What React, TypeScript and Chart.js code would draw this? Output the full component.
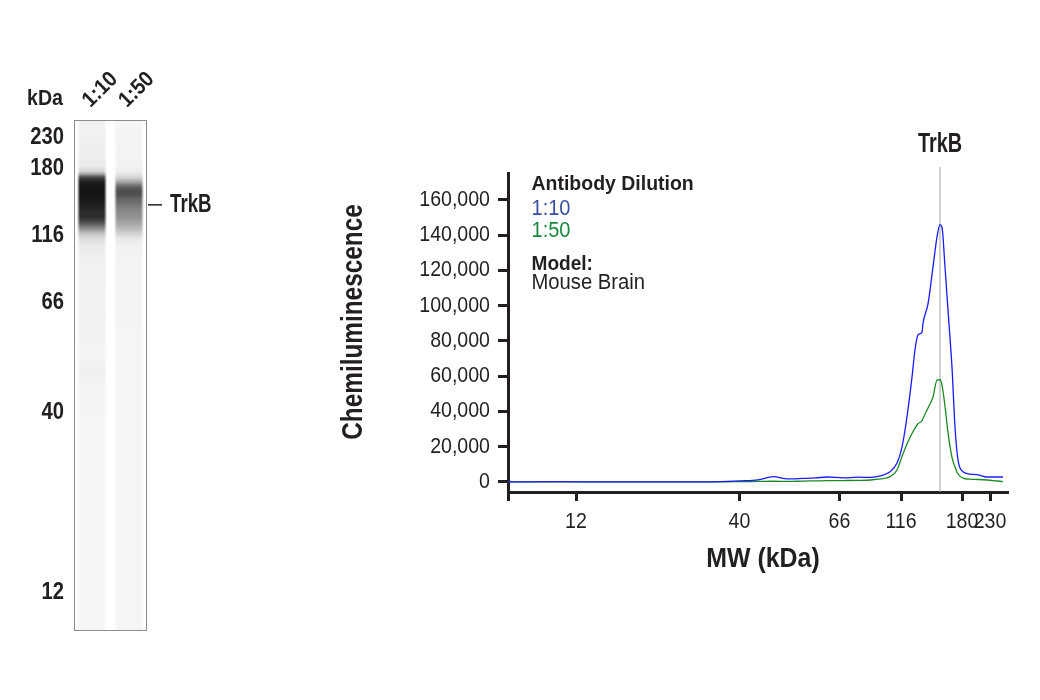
import React, { useEffect, useRef } from "react";
import { Chart, registerables } from "chart.js";

Chart.register(...registerables);

const FONT = "'Liberation Sans', Arial, Helvetica, sans-serif";
const INK = "#231f20";

// Molecular-weight calibration: tick labels and their relative migration positions (0-100)
const mwLabels = ["12", "40", "66", "116", "180", "230"];
const mwPositions = [13.6, 46.3, 66.3, 78.6, 90.8, 96.4];

// Chemiluminescence axis ticks
const yTickValues = [0, 20000, 40000, 60000, 80000, 100000, 120000, 140000, 160000];

// Relative migration positions at which the signal was read
const migration = [
  0, 10, 20, 30, 38.5, 44, 46.5, 50, 53.1, 55.9, 59, 61.5, 63.9, 67.1, 70, 72.5, 74.5, 76.4,
  77.8, 78.8, 79.8, 80.8, 81.4, 82.0, 82.8, 83.0, 84.0, 85.0, 85.8, 86.4, 86.8, 87.4, 88.0,
  88.8, 89.4, 90.0, 91.0, 92.4, 94.0, 95.8, 97.0, 99.0,
];

// Antibody dilution 1:10 (blue)
const dilution10 = [
  0, 200, 0, 100, 0, 300, 600, 1200, 3000, 1700, 2000, 2300, 2800, 2300, 2700, 2600, 3400, 5800,
  10700, 19800, 37000, 59500, 75000, 83500, 85000, 90000, 101000, 122000, 139000, 146000, 144500,
  122000, 97500, 65000, 31000, 12500, 5800, 4500, 4000, 2800, 2800, 2800,
];

// Antibody dilution 1:50 (green)
const dilution50 = [
  0, 0, 0, 0, 0, 100, 200, 300, 400, 300, 500, 600, 700, 800, 900, 1100, 1700, 3000,
  6800, 14500, 21500, 27500, 30500, 33000, 34800, 36000, 42000, 48200, 57800, 58000, 55000,
  43000, 28000, 14000, 8500, 4500, 2200, 1600, 1400, 1100, 800, 200,
];

const laneLabels = ["1:10", "1:50"];
const laneColors = ["#3a4ca3", "#17873d"];
const targetName = "TrkB";
const targetPosition = 86.4;
const gelTargetPosition = 83.9;
const modelName = "Mouse Brain";

const BLUE = "#1a1aff";
const GREEN = "#1c8a24";
const GEL_K = 48000;

type TxtOpts = {
  size: number;
  bold?: boolean;
  sx?: number;
  align?: CanvasTextAlign;
  baseline?: CanvasTextBaseline;
  color?: string;
  rot?: number;
};

function txt(ctx: CanvasRenderingContext2D, s: string, x: number, y: number, o: TxtOpts) {
  ctx.save();
  ctx.translate(x, y);
  if (o.rot) ctx.rotate(o.rot);
  ctx.scale(o.sx ?? 1, 1);
  ctx.font = `${o.bold ? "bold " : ""}${o.size}px ${FONT}`;
  ctx.textAlign = o.align ?? "left";
  ctx.textBaseline = o.baseline ?? "alphabetic";
  ctx.fillStyle = o.color ?? INK;
  ctx.fillText(s, 0, 0);
  ctx.restore();
}

function interp(p: number, xs: number[], ys: number[]) {
  if (p <= xs[0]) return ys[0];
  if (p >= xs[xs.length - 1]) return ys[ys.length - 1];
  for (let i = 1; i < xs.length; i++) {
    if (p <= xs[i]) {
      const t = (p - xs[i - 1]) / (xs[i] - xs[i - 1]);
      return ys[i - 1] + t * (ys[i] - ys[i - 1]);
    }
  }
  return 0;
}

const gelPlugin = {
  id: "gel",
  beforeDatasetsDraw(chart: any) {
    const { ctx, chartArea: ca, scales } = chart;
    const x = scales.x;
    const y = scales.y;
    ctx.save();
    ctx.fillStyle = "#ffffff";
    ctx.fillRect(ca.left, ca.top, ca.right - ca.left, ca.bottom - ca.top);
    const series = [dilution10, dilution50];
    const laneW = 30;
    series.forEach((vals, li) => {
      const cx = Math.round(x.getPixelForValue(li));
      const x0 = cx - laneW / 2;
      for (let py = Math.ceil(ca.top) + 1; py < ca.bottom - 1; py++) {
        const p = y.getValueForPixel(py + 0.5);
        const v = interp(p, migration, vals);
        const d = 1 - Math.exp(-Math.pow(v / GEL_K, 1.4));
        for (let dx = 0; dx < laneW; dx++) {
          const edge = Math.min(1, (Math.min(dx, laneW - 1 - dx) + 0.5) / 3);
          const base = 255 - 10 * edge;
          const g = Math.round(base * (1 - 0.93 * d * edge));
          ctx.fillStyle = `rgb(${g},${g},${g})`;
          ctx.fillRect(x0 + dx, py, 1, 1);
        }
      }
    });
    ctx.strokeStyle = "#8c8c8c";
    ctx.lineWidth = 1;
    ctx.strokeRect(ca.left + 0.5, ca.top + 0.5, ca.right - ca.left - 1, ca.bottom - ca.top - 1);
    ctx.restore();
  },
  afterDraw(chart: any) {
    const { ctx, chartArea: ca, scales } = chart;
    // kDa header and MW tick labels
    txt(ctx, "kDa", ca.left - 11, 105, { size: 22, bold: true, sx: 0.89, align: "right" });
    mwPositions.forEach((p, i) => {
      const py = scales.y.getPixelForValue(p);
      txt(ctx, mwLabels[i], ca.left - 10, py + 8, { size: 23, bold: true, sx: 0.88, align: "right" });
    });
    // lane labels
    laneLabels.forEach((lab, i) => {
      const cx = scales.x.getPixelForValue(i);
      txt(ctx, lab, cx + 8, 90, { size: 22, bold: true, sx: 0.9, align: "center", baseline: "middle", rot: -Math.PI / 4 });
    });
    // target marker
    const ty = scales.y.getPixelForValue(gelTargetPosition);
    ctx.save();
    ctx.strokeStyle = INK;
    ctx.lineWidth = 1.5;
    ctx.beginPath();
    ctx.moveTo(ca.right + 1, ty);
    ctx.lineTo(ca.right + 15, ty);
    ctx.stroke();
    ctx.restore();
    txt(ctx, targetName, ca.right + 23, ty + 7, { size: 26, bold: true, sx: 0.72 });
  },
};

const epPlugin = {
  id: "ep",
  beforeDatasetsDraw(chart: any) {
    const { ctx, chartArea: ca, scales } = chart;
    const tx = scales.x.getPixelForValue(targetPosition);
    ctx.save();
    ctx.strokeStyle = "#b0b0b0";
    ctx.lineWidth = 1.2;
    ctx.beginPath();
    ctx.moveTo(tx, ca.top - 6);
    ctx.lineTo(tx, ca.bottom);
    ctx.stroke();
    ctx.restore();
  },
  afterDraw(chart: any) {
    const { ctx, chartArea: ca, scales } = chart;
    const tx = scales.x.getPixelForValue(targetPosition);
    txt(ctx, targetName, tx, ca.top - 21, { size: 28, bold: true, sx: 0.71, align: "center" });

    // tick labels
    yTickValues.forEach((v) => {
      const py = scales.y.getPixelForValue(v);
      txt(ctx, v.toLocaleString("en-US"), ca.left - 18, py + 6, { size: 21.5, sx: 0.91, align: "right" });
    });
    mwPositions.forEach((p, i) => {
      const px = scales.x.getPixelForValue(p);
      txt(ctx, mwLabels[i], px, ca.bottom + 36, { size: 21.5, sx: 0.91, align: "center" });
    });

    // legend block
    const lx = ca.left + 23.5;
    txt(ctx, "Antibody Dilution", lx, ca.top + 16.5, { size: 20.5, bold: true, sx: 0.95 });
    txt(ctx, laneLabels[0], lx, ca.top + 42, { size: 22, sx: 0.91, color: laneColors[0] });
    txt(ctx, laneLabels[1], lx, ca.top + 64, { size: 22, sx: 0.91, color: laneColors[1] });
    txt(ctx, "Model:", lx, ca.top + 97, { size: 20.5, bold: true, sx: 0.93 });
    txt(ctx, modelName, lx, ca.top + 116, { size: 22, sx: 0.92 });

    // axis titles
    txt(ctx, "MW (kDa)", ca.left + 255, ca.bottom + 75, { size: 28, bold: true, sx: 0.89, align: "center" });
    txt(ctx, "Chemiluminescence", ca.left - 154, 322, {
      size: 29,
      bold: true,
      sx: 0.84,
      align: "center",
      baseline: "middle",
      rot: -Math.PI / 2,
    });
  },
};

export default function App() {
  const gelRef = useRef<HTMLCanvasElement>(null);
  const epRef = useRef<HTMLCanvasElement>(null);

  useEffect(() => {
    const gel = new Chart(gelRef.current as HTMLCanvasElement, {
      type: "line",
      data: { labels: laneLabels, datasets: [] },
      options: {
        animation: false,
        responsive: false,
        layout: { padding: { left: 0, right: 300 - 147, top: 120, bottom: 700 - 631 } },
        plugins: { legend: { display: false }, tooltip: { enabled: false } },
        scales: {
          x: { type: "category", offset: true, display: false },
          y: {
            type: "linear",
            min: 6.3,
            max: 99.35,
            afterFit: (s: any) => {
              s.width = 74;
            },
            afterBuildTicks: (s: any) => {
              s.ticks = mwPositions.map((v) => ({ value: v }));
            },
            ticks: { display: false },
            grid: { display: false, drawTicks: false },
            border: { display: false },
          },
        },
      } as any,
      plugins: [gelPlugin],
    });

    const ep = new Chart(epRef.current as HTMLCanvasElement, {
      type: "line",
      data: {
        datasets: [
          {
            label: laneLabels[0],
            data: migration.map((x, i) => ({ x, y: dilution10[i] })),
            borderColor: BLUE,
            borderWidth: 1.3,
            pointRadius: 0,
            cubicInterpolationMode: "monotone",
            fill: false,
          },
          {
            label: laneLabels[1],
            data: migration.map((x, i) => ({ x, y: dilution50[i] })),
            borderColor: GREEN,
            borderWidth: 1.3,
            pointRadius: 0,
            cubicInterpolationMode: "monotone",
            fill: false,
          },
        ],
      },
      options: {
        animation: false,
        responsive: false,
        layout: { padding: { left: 0, right: 32, top: 173, bottom: 700 - 492 - 90 } },
        plugins: { legend: { display: false }, tooltip: { enabled: false } },
        scales: {
          x: {
            type: "linear",
            min: 0,
            max: 100,
            afterFit: (s: any) => {
              s.height = 90;
            },
            afterBuildTicks: (s: any) => {
              s.ticks = [0, ...mwPositions].map((v) => ({ value: v }));
            },
            ticks: { display: false, autoSkip: false },
            grid: { drawOnChartArea: false, tickLength: 9, tickWidth: 3, tickColor: INK },
            border: { width: 3, color: INK },
          },
          y: {
            type: "linear",
            min: -5700,
            max: 175300,
            afterFit: (s: any) => {
              s.width = 208;
            },
            afterBuildTicks: (s: any) => {
              s.ticks = yTickValues.map((v) => ({ value: v }));
            },
            ticks: { display: false, autoSkip: false },
            grid: { drawOnChartArea: false, tickLength: 10, tickWidth: 3, tickColor: INK },
            border: { width: 3, color: INK },
          },
        },
      } as any,
      plugins: [epPlugin],
    });

    return () => {
      gel.destroy();
      ep.destroy();
    };
  }, []);

  return (
    <div style={{ position: "fixed", left: 0, top: 0, width: 1040, height: 700, background: "#fff" }}>
      <canvas
        ref={gelRef}
        width={300}
        height={700}
        style={{ position: "absolute", left: 0, top: 0, width: 300, height: 700 }}
      />
      <canvas
        ref={epRef}
        width={740}
        height={700}
        style={{ position: "absolute", left: 300, top: 0, width: 740, height: 700 }}
      />
    </div>
  );
}
